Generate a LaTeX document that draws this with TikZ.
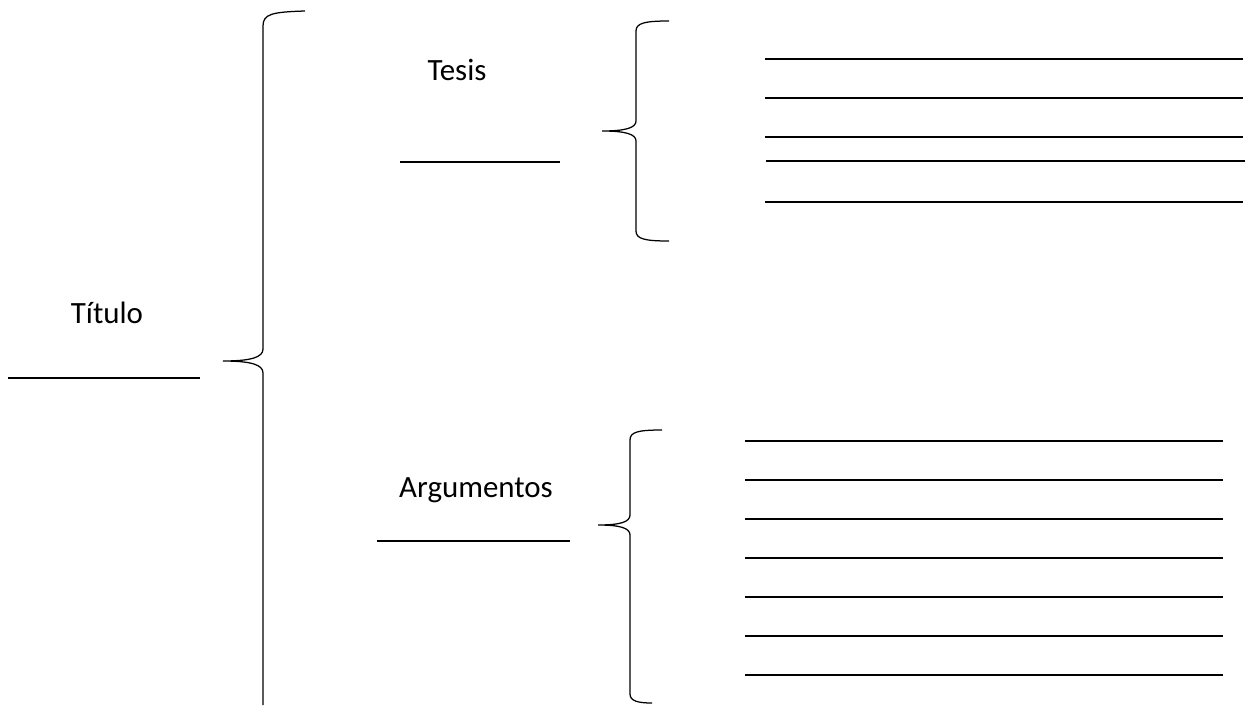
\documentclass[tikz,border=0pt]{standalone}
\usepackage{fontspec}
\setmainfont{Carlito}
\usetikzlibrary{positioning}

\begin{document}
\begin{tikzpicture}[x=0.2mm, y=-0.2mm,
				rotulo/.style={font=\fontsize{17.6}{21}\selectfont, anchor=base, inner sep=0pt},
				raya/.style={line width=0.4mm},
				subraya/.style={line width=0.3mm},
				llave/.style={line width=0.25mm}
				]
				\useasboundingbox (0,0) rectangle (1252,705);
				% textos
				\node[rotulo] (titulo) at (107,323) {Título};
				\node[rotulo] (tesis) at (457,80) {Tesis};
				\node[rotulo] (argumentos) at (476,497) {Argumentos};
				
				% subrayados
				\draw[subraya] (8,378) -- (200,378);
				\draw[subraya] (400,162) -- (560,162);
				\draw[subraya] (377,541) -- (570,541);
				
				% llave grande
				\coordinate (puntaG) at (223,361);
				\draw[llave] (305,11) .. controls (272,12) and (263,14) .. (263,26) -- (263,349)
					.. controls (263,357) and (252,361) .. (puntaG)
					.. controls (252,361) and (263,365) .. (263,373) -- (263,705);
				
				% llave de la tesis
				\coordinate (puntaT) at (602,131);
				\draw[llave] (669,21) .. controls (645,21) and (636,23) .. (636,31) -- (636,121)
					.. controls (636,128) and (625,131) .. (puntaT)
					.. controls (625,131) and (636,134) .. (636,141) -- (636,231)
					.. controls (636,239) and (645,241) .. (669,241);
				
				% llave de los argumentos
				\coordinate (puntaA) at (598,525);
				\draw[llave] (662,430) .. controls (638,430) and (630,432) .. (630,440) -- (630,515)
					.. controls (630,522) and (620,525) .. (puntaA)
					.. controls (620,525) and (630,528) .. (630,535) -- (630,694)
					.. controls (630,701) and (638,703) .. (652,703);
				
				% lineas para escribir
				\foreach \y in {59,98,137,202}
					\draw[raya] (765,\y) -- (1243,\y);
				\draw[raya] (766,161) -- (1245,161);
				\foreach \y in {441,480,519,558,597,636,675}
					\draw[raya] (745,\y) -- (1223,\y);
			\end{tikzpicture}
\end{document}
